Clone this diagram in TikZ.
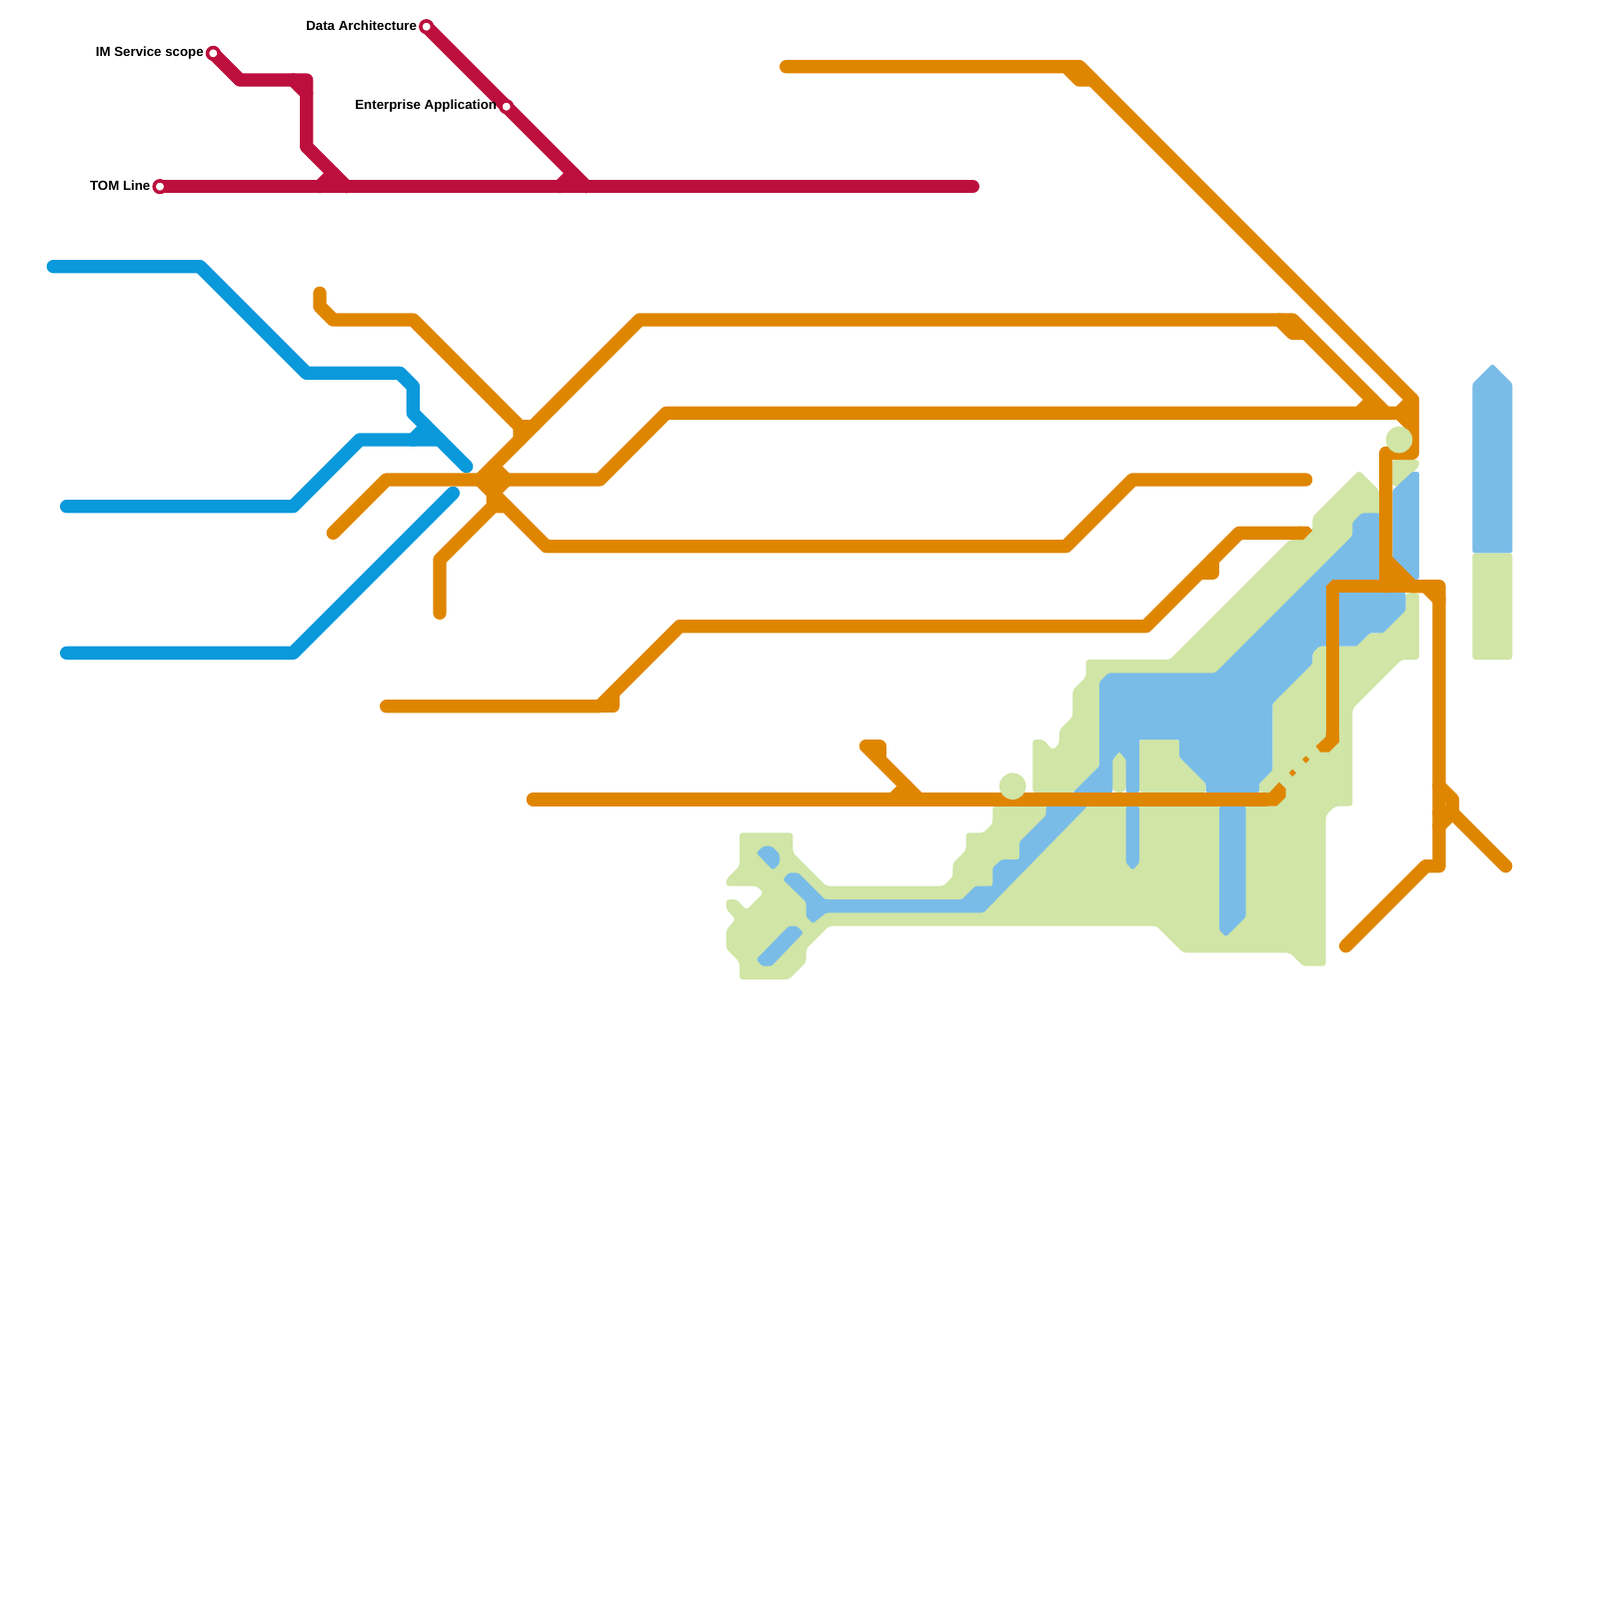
\documentclass[tikz,border=0pt]{standalone}
\usepackage{fontspec}
\setmainfont{Liberation Sans}
\usetikzlibrary{positioning}
\definecolor{tomC}{HTML}{BC0F3D}
\definecolor{skyC}{HTML}{0A99DB}
\definecolor{amberC}{HTML}{DF8600}
\definecolor{paleC}{HTML}{D0E5A6}
\definecolor{lightC}{HTML}{7ABCE8}
\tikzset{
  rail/.style={line width=3mm, line cap=round, line join=round},
  tomrail/.style={rail, draw=tomC},
  skyrail/.style={rail, draw=skyC},
  amberrail/.style={rail, draw=amberC},
  palerail/.style={rail, draw=paleC},
  palearea/.style={fill=paleC, rounded corners=0.7mm},
  lightarea/.style={fill=lightC, rounded corners=0.5mm},
  stn/.style={circle, draw=tomC, fill=white, line width=0.8mm, minimum size=2.6mm, inner sep=0pt},
  hub/.style={circle, fill=paleC, minimum size=6mm, inner sep=0pt},
  lbl/.style={font=\fontsize{8.5}{10}\selectfont\bfseries, inner sep=0pt, yshift=0.1mm},
}

\begin{document}
\begin{tikzpicture}[x=3mm,y=-3mm]
\useasboundingbox (0,0) rectangle (120,120);

\fill[palearea] (55.5,62.5) -- (59.5,62.5) -- (59.5,64) -- (62,66.5) -- (70.8,66.5) -- (71.5,65.8) -- (71.5,64.8) -- (72.5,63.8) -- (72.5,62.5) -- (73.8,62.5) -- (74.5,61.8) -- (74.5,60.5) -- (96,60.5) -- (94.5,59.5) -- (94.5,58.8) -- (95.5,57.8) -- (95.5,52.8) -- (98.5,49.8) -- (98.5,48.5) -- (101.8,48.5) -- (102.8,47.5) -- (103.8,47.5) -- (105.5,45.8) -- (105.5,44.5) -- (106.5,44.5) -- (106.5,49.5) -- (105.2,49.5) -- (101.5,53.2) -- (101.5,60.5) -- (100.2,60.5) -- (99.5,61.2) -- (99.5,72.5) -- (97.8,72.5) -- (96.8,71.5) -- (88.8,71.5) -- (86.8,69.5) -- (62.2,69.5) -- (60.5,71.2) -- (60.5,72.2) -- (59.2,73.5) -- (55.5,73.5) -- (55.5,72.2) -- (54.5,71.2) -- (54.5,69.8) -- (55.2,69) -- (54.5,68.2) -- (54.5,67.5) -- (55.3,67.5) -- (56,68.3) -- (57.3,67) -- (56.8,66.5) -- (54.5,66.5) -- (54.5,66) -- (55.5,65) -- cycle;
\fill[palearea] (77.5,59.5) -- (77.5,55.5) -- (78.3,55.5) -- (79,56.3) -- (79.5,55.8) -- (79.5,54.8) -- (80.5,53.8) -- (80.5,51.8) -- (81.5,50.8) -- (81.5,49.5) -- (87.8,49.5) -- (96.8,40.5) -- (97.8,40.5) -- (98.5,39.8) -- (98.5,38.8) -- (102,35.3) -- (103.5,36.8) -- (103.6,39) -- (91,51) -- (83,51) -- (82.5,57.5) -- (80.5,59.5) -- cycle;
\fill[palearea] (85.5,55.5) -- (88.5,55.5) -- (88.5,56.8) -- (90.5,58.8) -- (90.5,59.5) -- (85.5,59.5) -- cycle;
\draw[palerail] (84,57) -- (84,59);
\fill[palearea] (104.5,34.5) -- (106.5,34.5) -- (106.5,35) -- (105,36.5) -- (104.5,36.5) -- cycle;
\fill[palearea] (110.5,41.5) -- (113.5,41.5) -- (113.5,49.5) -- (110.5,49.5) -- cycle;

\fill[lightarea] (83.2,50.5) -- (91.2,50.5) -- (101.5,40.2) -- (101.5,39.2) -- (102.2,38.5) -- (103.5,38.5) -- (104,39) -- (104,44) -- (105.5,44.5) -- (105.5,45.8) -- (103.8,47.5) -- (102.8,47.5) -- (101.8,48.5) -- (99,48.5) -- (98.5,49) -- (98.5,49.8) -- (95.5,52.8) -- (95.5,57.8) -- (94.5,58.8) -- (94.5,59.5) -- (90.5,59.5) -- (90.5,58.8) -- (88.5,56.8) -- (88.5,55.5) -- (85.5,55.5) -- (85.5,59.5) -- (84.5,59.5) -- (84.5,57) -- (84,56.4) -- (83.5,57) -- (83.5,59.5) -- (80.5,59.5) -- (82.5,57.5) -- (82.5,51.2) -- cycle;
\fill[lightarea] (58.75,66) -- (59.2,65.5) -- (59.9,65.5) -- (61.9,67.5) -- (72.2,67.5) -- (73.2,66.5) -- (74.5,66.5) -- (74.5,65.1) -- (75.2,64.5) -- (76.5,64.5) -- (76.5,63.2) -- (78.5,61.2) -- (78.5,60.5) -- (81.6,60.5) -- (73.8,68.5) -- (62,68.5) -- (61,69.3) -- (60.5,68.8) -- (60.5,67.7) -- cycle;
\fill[lightarea] (56.75,64) -- (57.3,63.5) -- (57.9,63.5) -- (58.5,64.1) -- (58.5,64.8) -- (58,65.3) -- cycle;
\fill[lightarea] (56.75,72) -- (59.2,69.5) -- (59.8,69.5) -- (60.3,70) -- (57.9,72.5) -- (57.2,72.5) -- cycle;
\fill[lightarea] (84.5,60.5) -- (85.5,60.5) -- (85.5,64.75) -- (85,65.3) -- (84.5,64.75) -- cycle;
\fill[lightarea] (91.5,60.5) -- (93.5,60.5) -- (93.5,68.8) -- (92,70.3) -- (91.5,69.8) -- cycle;
\fill[lightarea] (104.5,36.8) -- (106,35.4) -- (106.5,35.4) -- (106.5,43.5) -- (105.8,43.5) -- (104.5,42.2) -- cycle;
\fill[lightarea] (110.5,28.8) -- (112,27.3) -- (113.5,28.8) -- (113.5,41.5) -- (110.5,41.5) -- cycle;

\coordinate (tom) at (12,14);
\coordinate (imscope) at (16,4);
\coordinate (dataarch) at (32,2);
\coordinate (entapp) at (38,8);

\draw[tomrail] (tom) -- (73,14);
\draw[tomrail] (imscope) -- (18,6) -- (23,6) -- (23,11) -- (26,14);
\draw[tomrail] (22,6) -- (23,7);
\draw[tomrail] (25,13) -- (24,14);
\draw[tomrail] (dataarch) -- (entapp) -- (44,14);
\draw[tomrail] (43,13) -- (42,14);

\draw[skyrail] (4,20) -- (15,20) -- (23,28) -- (30,28) -- (31,29) -- (31,31) -- (35,35);
\draw[skyrail] (5,38) -- (22,38) -- (27,33) -- (33,33);
\draw[skyrail] (32,32) -- (31,33);
\draw[skyrail] (5,49) -- (22,49) -- (34,37);

\draw[amberrail] (59,5) -- (81,5) -- (106,30) -- (106,34) -- (104,34) -- (104,44);
\draw[amberrail] (80,5) -- (81,6) -- (82,6);
\draw[amberrail] (24,22) -- (24,23) -- (25,24) -- (31,24) -- (39,32) -- (39,33);
\draw[amberrail] (39,32) -- (40,32);
\draw[amberrail] (36,36) -- (48,24) -- (97,24) -- (104,31);
\draw[amberrail] (96,24) -- (97,25) -- (98,25);
\draw[amberrail] (103,30) -- (102,31);
\draw[amberrail] (25,40) -- (29,36) -- (45,36) -- (50,31) -- (105,31) -- (106,32);
\draw[amberrail] (105,31) -- (106,30);
\draw[amberrail] (33,46) -- (33,42) -- (37,38) -- (38,38);
\draw[amberrail] (37,38) -- (37,35) -- (38,36) -- (37,37) -- (36,36);
\draw[amberrail] (36,36) -- (41,41) -- (80,41) -- (85,36) -- (98,36);
\draw[amberrail] (29,53) -- (45,53) -- (51,47) -- (86,47) -- (93,40) -- (97.6,40);
\fill[amberC] (97.5,39.5) -- (98.2,39.5) -- (98.5,39.8) -- (97.8,40.5) -- (97.5,40.5) -- cycle;
\draw[amberrail] (45,53) -- (46,53) -- (46,52);
\draw[amberrail] (90,43) -- (91,43) -- (91,42);
\draw[amberrail] (40,60) -- (95,60);
\fill[amberC] (96,58.7) -- (96.5,59.2) -- (96.5,59.8) -- (95.8,60.5) -- (95,60.5) -- (95,59.5) -- (95.25,59.5) -- cycle;
\draw[amberrail] (65,56) -- (69,60);
\draw[amberrail] (65,56) -- (66,56) -- (66,57);
\draw[amberrail] (68,59) -- (67,60);
\draw[amberrail, line join=bevel, line cap=butt] (100,55.4) -- (100,44) -- (107,44);
\fill[amberC] (100.5,55) -- (100.5,55.7) -- (99.75,56.45) -- (99.1,56.45) -- (98.75,56) -- (99.5,55.3) -- (99.5,55) -- cycle;
\foreach \dx in {97,98} {
  \fill[amberC] (\dx-0.27,155-\dx) -- (\dx,154.73-\dx) -- (\dx+0.27,155-\dx) -- (\dx,155.27-\dx) -- cycle;
}
\draw[amberrail] (106,44) -- (108,44) -- (108,65) -- (107,65) -- (101,71);
\draw[amberrail] (107,44) -- (108,45);
\draw[amberrail] (104,42) -- (106,44);
\draw[amberrail] (104,43) -- (105,43.9);
\draw[amberrail] (108,59) -- (109,60) -- (109,61) -- (108,62);
\draw[amberrail] (108,61) -- (109,61) -- (113,65);

\node[hub] (hubnorth) at (105,33) {};
\node[hub] (hubsouth) at (76,59) {};

\node[stn] (tomS) at (tom) {};
\node[stn] (imscopeS) at (imscope) {};
\node[stn] (dataarchS) at (dataarch) {};
\node[stn] (entappS) at (entapp) {};
\node[lbl, left=0.4mm of tomS] (tomL) {TOM Line};
\node[lbl, left=0.4mm of imscopeS] (imscopeL) {IM Service scope};
\node[lbl, left=0.4mm of dataarchS] (dataarchL) {Data Architecture};
\node[lbl, left=0.4mm of entappS] (entappL) {Enterprise Application};
\end{tikzpicture}
\end{document}
